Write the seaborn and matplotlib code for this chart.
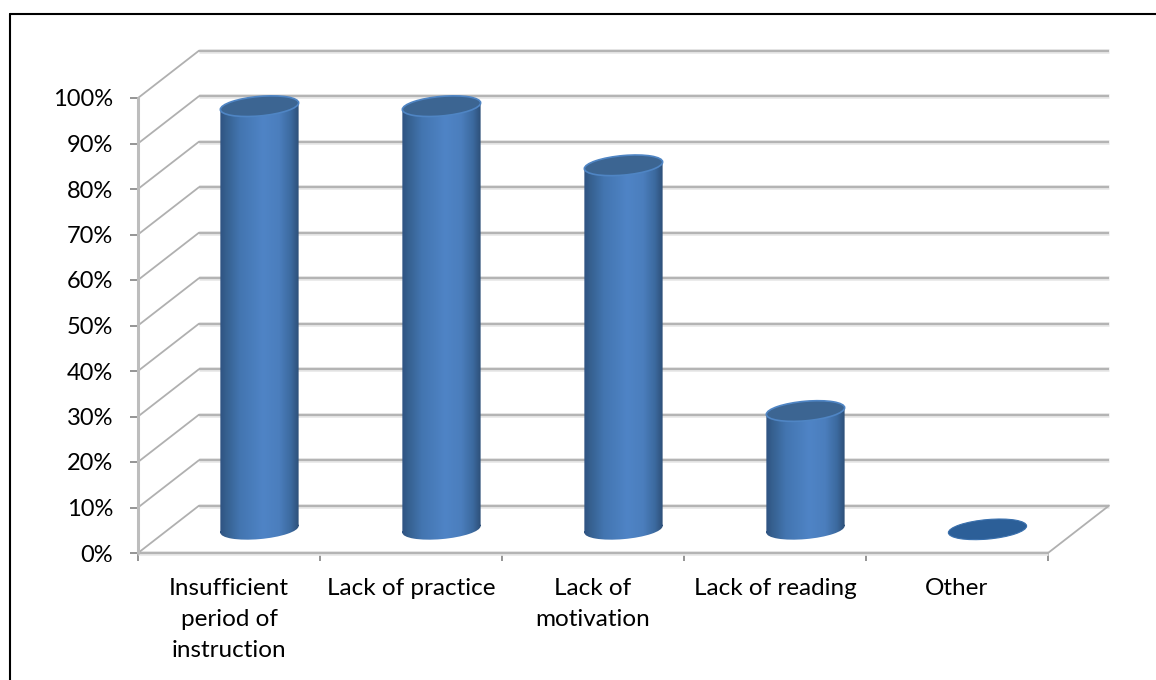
import numpy as np
import pandas as pd
import matplotlib
matplotlib.use('Agg')
import matplotlib.pyplot as plt
import seaborn as sns
from matplotlib.colors import LinearSegmentedColormap
from matplotlib.lines import Line2D
from matplotlib.patches import Ellipse
from matplotlib.path import Path
from matplotlib.transforms import Affine2D

# --- data ---
categories = ['Insufficient\nperiod of\ninstruction', 'Lack of practice',
              'Lack of\nmotivation', 'Lack of reading', 'Other']
values = [93, 93, 80, 26, 0]
y_ticks = list(range(0, 101, 10))
y_labels = [f'{t}%' for t in y_ticks]

# --- styling ---
GRID = '#b4b4b4'
GLOW = '#e8e8e8'
BAR_W = 0.43
DEPTH_X, DEPTH_Y = 0.335, 10.4    # back wall offset, in data units
SHEAR = 3.4
CAP_H = 4.3

sns.set_style('white')
plt.rcParams['font.family'] = ['Lato', 'DejaVu Sans']

fig = plt.figure(figsize=(11.56, 6.8), dpi=100)
# outer frame only shows on the top and left in the picture
frame_x, frame_y = 10 / 1156, 1 - 14 / 680
fig.add_artist(Line2D([frame_x, 1], [frame_y, frame_y], color='black', lw=1.5))
fig.add_artist(Line2D([frame_x, frame_x], [0, frame_y], color='black', lw=1.5))

ax = fig.add_axes([138 / 1156, 1 - 553 / 680, 910 / 1156, 455 / 680])
ax.patch.set_alpha(0)

df = pd.DataFrame({'category': categories, 'value': values})
sns.barplot(data=df, x='category', y='value', width=BAR_W, color='#4f81bd',
            saturation=1, ax=ax, zorder=3)

x0, x1 = -0.5, 4.5


def grid_line(xs, ys, width=1.6, color=GRID):
    ax.plot(xs, ys, color=GLOW, lw=width + 1.8, clip_on=False, zorder=1, solid_capstyle='butt')
    ax.plot(xs, ys, color=color, lw=width, clip_on=False, zorder=2, solid_capstyle='butt')


# back wall and left wall
for t in y_ticks:
    grid_line([x0 + DEPTH_X, x1 + DEPTH_X], [t + DEPTH_Y, t + DEPTH_Y])
    ax.plot([x0, x0 + DEPTH_X], [t, t + DEPTH_Y], color='#b0b0b0', lw=1.3,
            clip_on=False, zorder=2)

# floor
grid_line([x0, x1], [0, 0])
ax.plot([x1, x1 + DEPTH_X], [0, DEPTH_Y], color='#b0b0b0', lw=1.3, clip_on=False, zorder=2)
# front axis
ax.plot([x0, x0], [0, 100], color='#bdbdbd', lw=2.2, clip_on=False, zorder=2)

# --- cylinders: gradient body plus elliptical caps ---
shade = LinearSegmentedColormap.from_list('cyl', [
    (0.0, '#2f5382'), (0.08, '#36608f'), (0.25, '#4375b0'), (0.55, '#4f84c6'),
    (0.75, '#4b7ebd'), (0.9, '#3c6a9f'), (1.0, '#2d4f78')])
grad = np.linspace(0, 1, 256).reshape(1, -1)
shift = Affine2D().translate(DEPTH_X / 2, DEPTH_Y / 2) + ax.transData

for i, (patch, v) in enumerate(zip(ax.patches, values)):
    shear = Affine2D(np.array([[1, 0, DEPTH_X / 2],
                               [SHEAR, 1, DEPTH_Y / 2 - SHEAR * i],
                               [0, 0, 1]]))
    tr = shear + ax.transData
    patch.set_visible(False)
    if v > 0:
        body = patch.get_path().transformed(patch.get_patch_transform())
        foot = Path.unit_circle().transformed(
            Affine2D().scale(BAR_W / 2, CAP_H / 2).translate(i, 0))
        clip = Path.make_compound_path(body, foot)
        im = ax.imshow(grad, cmap=shade, aspect='auto', zorder=3, interpolation='bilinear',
                       extent=(i - BAR_W / 2, i + BAR_W / 2, -5, v + 5), transform=shift)
        im.set_clip_path(clip, tr)
        ax.add_patch(Ellipse((i, v), BAR_W, CAP_H, transform=tr, zorder=4, clip_on=False,
                             facecolor='#3c6592', edgecolor='#4f85c4', lw=1.2))
    else:
        ax.add_patch(Ellipse((i, v), BAR_W, CAP_H, transform=tr, zorder=4, clip_on=False,
                             facecolor='#2c5f98', edgecolor='#3a70ad', lw=0.8))

# --- axes ---
ax.set_xlim(x0, x1)
ax.set_ylim(0, 100)
ax.set_xlabel('')
ax.set_ylabel('')
sns.despine(ax=ax, left=True, bottom=True)
ax.set_yticks(y_ticks, y_labels)
ax.set_xticks(range(len(categories)), categories)
ax.set_xticks(np.arange(x0, x1 + 0.5), minor=True)
ax.tick_params(axis='y', length=6, width=1.3, color='#8c8c8c', left=True, pad=12,
               labelsize=17, labelcolor='black')
ax.tick_params(axis='x', which='major', length=0, pad=18, labelsize=17.5, labelcolor='black')
ax.tick_params(axis='x', which='minor', length=6, width=1.3, color='#8c8c8c', bottom=True)
for lab in ax.get_xticklabels():
    lab.set_linespacing(1.58)
    lab.set_verticalalignment('top')

fig.savefig('out.png', dpi=100)
